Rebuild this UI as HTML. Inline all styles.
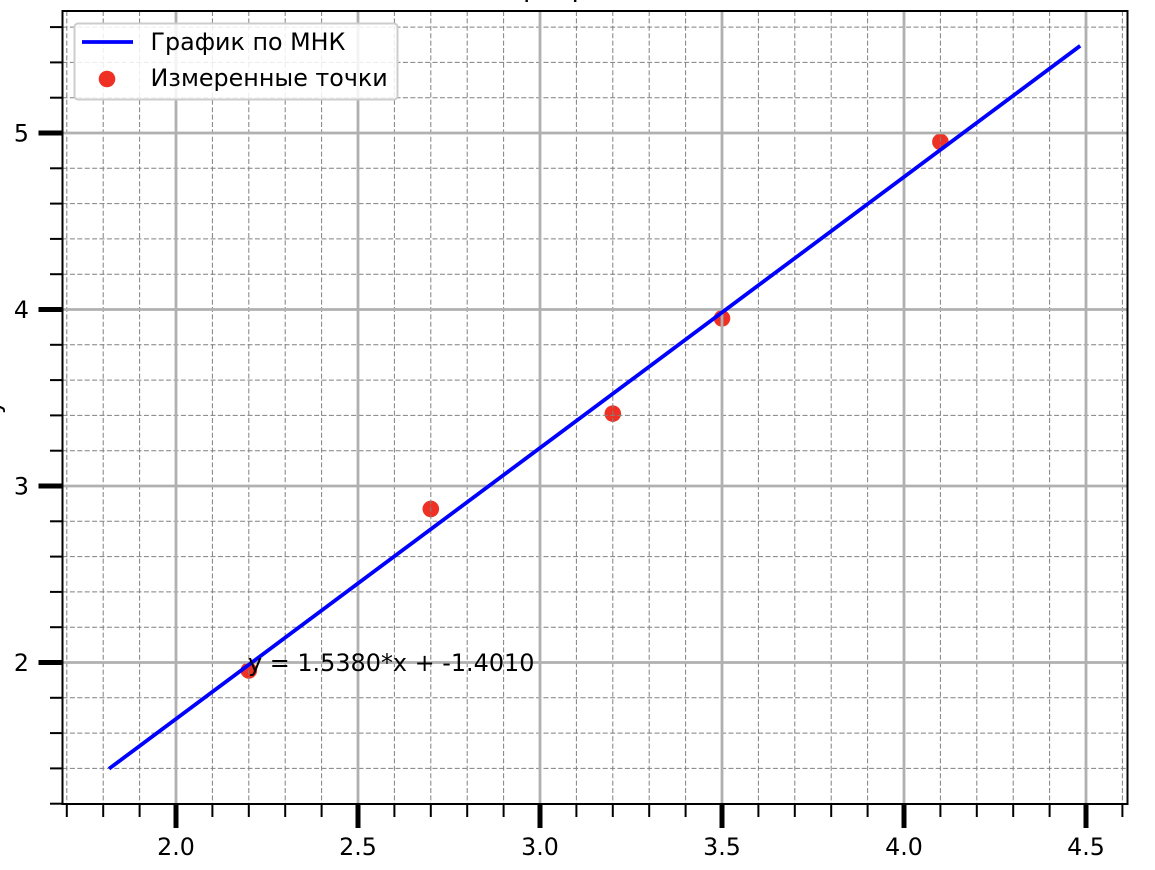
<!DOCTYPE html>
<html lang="ru">
<head>
<meta charset="utf-8">
<title>График по МНК</title>
<style>
html,body{margin:0;padding:0;background:#fff;width:1155px;height:870px;overflow:hidden}
svg{display:block;font-family:"DejaVu Sans","Liberation Sans",sans-serif}
</style>
</head>
<body>
<svg id="chart" xmlns="http://www.w3.org/2000/svg" width="1155" height="870" viewBox="0 0 1155 870">
  <rect x="0" y="0" width="1155" height="870" fill="#fff"/>
  <text x="503" y="-3.5" font-size="27" letter-spacing="3.5" fill="#000">График</text>
  <text transform="translate(0,407) rotate(-90)" text-anchor="middle" font-size="24" fill="#000">y</text>
  <g id="scatter-layer"></g>
  <g id="grid-layer"></g>
  <g id="line-layer"></g>
  <g id="tick-layer"></g>
  <rect x="62.5" y="11" width="1065" height="793" fill="none" stroke="#000" stroke-width="2"/>
  <text x="248" y="671" font-size="23.9" fill="#000">y = 1.5380*x + -1.4010</text>
  <g>
    <rect x="74.5" y="23.5" width="323" height="76" rx="3.5" fill="#fff" fill-opacity="0.85" stroke="#ccc" stroke-width="2"/>
    <line x1="82" y1="42" x2="133" y2="42" stroke="#0000ff" stroke-width="3.8"/>
    <text x="150.5" y="50" font-size="23.8" fill="#000">График по МНК</text>
    <circle cx="107" cy="79" r="8.3" fill="#ee3124"/>
    <text x="150.5" y="86" font-size="23.8" fill="#000">Измеренные точки</text>
  </g>
</svg>
<script>
const pointX = [2.2, 2.7, 3.2, 3.5, 4.1];
const pointY = [1.955, 2.87, 3.41, 3.95, 4.95];
const lineX = [1.816, 4.484];
const lineY = [1.398, 5.494];
const xMajorTicks = [2.0, 2.5, 3.0, 3.5, 4.0, 4.5];
const xMajorLabels = ['2.0', '2.5', '3.0', '3.5', '4.0', '4.5'];
const xMinorTicks = [1.7, 1.8, 1.9, 2.1, 2.2, 2.3, 2.4, 2.6, 2.7, 2.8, 2.9, 3.1, 3.2, 3.3, 3.4, 3.6, 3.7, 3.8, 3.9, 4.1, 4.2, 4.3, 4.4, 4.6];
const yMajorTicks = [2, 3, 4, 5];
const yMajorLabels = ['2', '3', '4', '5'];
const yMinorTicks = [1.2, 1.4, 1.6, 1.8, 2.2, 2.4, 2.6, 2.8, 3.2, 3.4, 3.6, 3.8, 4.2, 4.4, 4.6, 4.8, 5.2, 5.4, 5.6];

const plot = { left: 62.5, right: 1127.5, top: 11, bottom: 804 };
const xScale = { v0: 2, p0: 176, perUnit: 364 };
const yScale = { v0: 2, p0: 662.5, perUnit: -176.5 };
function sx(v) { return xScale.p0 + (v - xScale.v0) * xScale.perUnit; }
function sy(v) { return yScale.p0 + (v - yScale.v0) * yScale.perUnit; }

const NS = 'http://www.w3.org/2000/svg';
function make(tag, attrs, parent) {
  const el = document.createElementNS(NS, tag);
  for (const k in attrs) el.setAttribute(k, attrs[k]);
  parent.appendChild(el);
  return el;
}
const scatterLayer = document.getElementById('scatter-layer');
const gridLayer = document.getElementById('grid-layer');
const lineLayer = document.getElementById('line-layer');
const tickLayer = document.getElementById('tick-layer');

pointX.forEach(function (x, i) {
  const el = make('circle', { cx: sx(x), cy: sy(pointY[i]), r: 8.3, fill: '#ee3124' }, scatterLayer);
  
  
});

const minorGrid = { stroke: '#808080', 'stroke-width': 1, 'stroke-dasharray': '5 2.4' };
const majorGrid = { stroke: '#b0b0b0', 'stroke-width': 2.8 };

xMinorTicks.forEach(function (v) {
  const el = make('line', Object.assign({ x1: sx(v), x2: sx(v), y1: plot.top, y2: plot.bottom }, minorGrid), gridLayer);
  
  
  const t = make('line', { x1: sx(v), x2: sx(v), y1: plot.bottom, y2: plot.bottom + 13, stroke: '#000', 'stroke-width': 2 }, tickLayer);
  
  
});
yMinorTicks.forEach(function (v) {
  const el = make('line', Object.assign({ x1: plot.left, x2: plot.right, y1: sy(v), y2: sy(v) }, minorGrid), gridLayer);
  
  
  const t = make('line', { x1: plot.left - 12.5, x2: plot.left, y1: sy(v), y2: sy(v), stroke: '#000', 'stroke-width': 2 }, tickLayer);
  
  
});
xMajorTicks.forEach(function (v, i) {
  const el = make('line', Object.assign({ x1: sx(v), x2: sx(v), y1: plot.top, y2: plot.bottom }, majorGrid), gridLayer);
  
  
  const t = make('line', { x1: sx(v), x2: sx(v), y1: plot.bottom, y2: plot.bottom + 24, stroke: '#000', 'stroke-width': 5 }, tickLayer);
  
  
  const lb = make('text', { x: sx(v), y: 855, 'text-anchor': 'middle', 'font-size': 23.7, fill: '#000' }, tickLayer);
  
  
  lb.textContent = xMajorLabels[i];
});
yMajorTicks.forEach(function (v, i) {
  const el = make('line', Object.assign({ x1: plot.left, x2: plot.right, y1: sy(v), y2: sy(v) }, majorGrid), gridLayer);
  
  
  const t = make('line', { x1: plot.left - 24, x2: plot.left, y1: sy(v), y2: sy(v), stroke: '#000', 'stroke-width': 5 }, tickLayer);
  
  
  const lb = make('text', { x: 29, y: sy(v) + 8.5, 'text-anchor': 'end', 'font-size': 23.7, fill: '#000' }, tickLayer);
  
  
  lb.textContent = yMajorLabels[i];
});

const fit = make('polyline', {
  points: lineX.map(function (x, i) { return sx(x) + ',' + sy(lineY[i]); }).join(' '),
  fill: 'none', stroke: '#0000ff', 'stroke-width': 3.8
}, lineLayer);


</script>
</body>
</html>
